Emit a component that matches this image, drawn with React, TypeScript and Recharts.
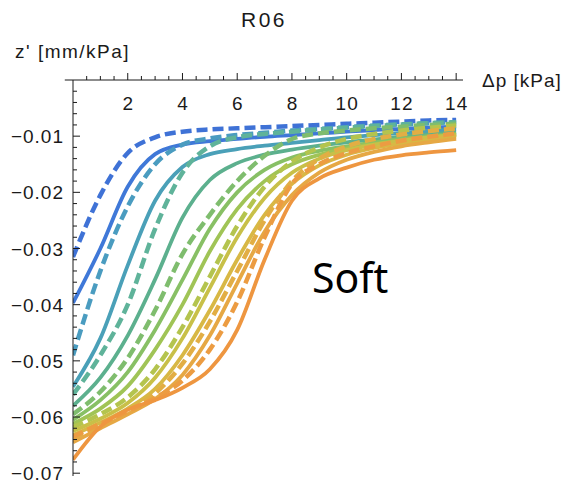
import React from 'react';
import { LineChart, Line, XAxis, YAxis, ReferenceLine } from 'recharts';

if (typeof document !== 'undefined') {
  document.body.style.margin = '0';
}

// Δp [kPa]
const pressure = [0, 1, 2, 3, 4, 5, 6, 7, 8, 9, 10, 11, 12, 13, 14];

// z' [mm/kPa] series, blue (left/top) to orange (right/bottom)
const c01 = [-0.0315, -0.0205, -0.013, -0.0102, -0.0092, -0.0088, -0.0086, -0.0084, -0.0082, -0.008, -0.0078, -0.0076, -0.0074, -0.0072, -0.0071];
const c02 = [-0.0397, -0.03, -0.019, -0.0132, -0.0115, -0.0109, -0.0105, -0.0101, -0.0098, -0.0095, -0.0092, -0.0089, -0.0087, -0.0085, -0.0083];
const c03 = [-0.049, -0.034, -0.0225, -0.015, -0.0115, -0.0104, -0.0098, -0.0094, -0.009, -0.0087, -0.0084, -0.0081, -0.0079, -0.0077, -0.0075];
const c04 = [-0.0546, -0.046, -0.033, -0.0215, -0.0155, -0.0132, -0.0123, -0.0117, -0.0112, -0.0107, -0.0102, -0.0098, -0.0094, -0.0091, -0.0088];
const c05 = [-0.056, -0.049, -0.04, -0.0265, -0.0165, -0.0118, -0.0102, -0.0096, -0.0092, -0.0088, -0.0085, -0.0082, -0.0079, -0.0077, -0.0075];
const c06 = [-0.058, -0.053, -0.0455, -0.0355, -0.0245, -0.0178, -0.0148, -0.0133, -0.0124, -0.0117, -0.0111, -0.0106, -0.0101, -0.0097, -0.0093];
const c07 = [-0.0595, -0.0555, -0.0495, -0.041, -0.031, -0.024, -0.018, -0.0135, -0.0105, -0.0095, -0.009, -0.0086, -0.0083, -0.008, -0.0078];
const c08 = [-0.0605, -0.057, -0.052, -0.0445, -0.0356, -0.0265, -0.02, -0.016, -0.0138, -0.0126, -0.0118, -0.0111, -0.0105, -0.01, -0.0096];
const c09 = [-0.0612, -0.0585, -0.0545, -0.048, -0.04, -0.0305, -0.023, -0.018, -0.015, -0.0133, -0.0122, -0.0114, -0.0107, -0.0102, -0.0097];
const c10 = [-0.0618, -0.0595, -0.0565, -0.0515, -0.044, -0.035, -0.026, -0.019, -0.0145, -0.012, -0.0105, -0.0096, -0.009, -0.0085, -0.0081];
const c11 = [-0.0625, -0.0603, -0.0575, -0.053, -0.046, -0.037, -0.028, -0.021, -0.0165, -0.014, -0.0125, -0.0115, -0.0108, -0.0102, -0.0098];
const c12 = [-0.0632, -0.061, -0.0585, -0.055, -0.049, -0.041, -0.032, -0.024, -0.0185, -0.0152, -0.0133, -0.0121, -0.0113, -0.0106, -0.0101];
const c13 = [-0.0638, -0.0615, -0.059, -0.0558, -0.0505, -0.043, -0.034, -0.025, -0.018, -0.014, -0.0118, -0.0105, -0.0097, -0.0091, -0.0086];
const c14 = [-0.0645, -0.062, -0.0595, -0.0568, -0.0525, -0.0455, -0.0362, -0.027, -0.0205, -0.0165, -0.0142, -0.0128, -0.0118, -0.0111, -0.0105];
const c15 = [-0.0635, -0.0612, -0.059, -0.0566, -0.0535, -0.048, -0.0395, -0.028, -0.0185, -0.015, -0.013, -0.0118, -0.0108, -0.0101, -0.0095];
const c16 = [-0.0676, -0.0617, -0.0587, -0.057, -0.0548, -0.0515, -0.0445, -0.032, -0.0215, -0.0175, -0.0156, -0.0142, -0.0134, -0.0129, -0.0125];

const seriesValues = [c01, c02, c03, c04, c05, c06, c07, c08, c09, c10, c11, c12, c13, c14, c15, c16];
const seriesDashed = [true, false, true, false, true, false, true, false, false, true, false, false, true, false, true, false];
const seriesColors = [
  '#3f72d6', '#3f78d8', '#4a9cc0', '#4aa0b8', '#5fb39a', '#5cb08e', '#7fbd6e', '#88c065',
  '#a0c456', '#b4c44e', '#c8c048', '#d8b845', '#e2ae44', '#e6a844', '#ec9c42', '#ee9640',
];

const xTickValues = [0.5, 1, 1.5, 2, 2.5, 3, 3.5, 4, 4.5, 5, 5.5, 6, 6.5, 7, 7.5, 8, 8.5, 9, 9.5, 10, 10.5, 11, 11.5, 12, 12.5, 13, 13.5, 14];
const xMajorTicks = [2, 4, 6, 8, 10, 12, 14];
const xTickLabels = ['2', '4', '6', '8', '10', '12', '14'];

const yTickValues = [
  -0.002, -0.004, -0.006, -0.008, -0.01, -0.012, -0.014, -0.016, -0.018, -0.02,
  -0.022, -0.024, -0.026, -0.028, -0.03, -0.032, -0.034, -0.036, -0.038, -0.04,
  -0.042, -0.044, -0.046, -0.048, -0.05, -0.052, -0.054, -0.056, -0.058, -0.06,
  -0.062, -0.064, -0.066, -0.068, -0.07,
];
const yMajorTicks = [-0.01, -0.02, -0.03, -0.04, -0.05, -0.06, -0.07];
const yTickLabels = ['\u22120.01', '\u22120.02', '\u22120.03', '\u22120.04', '\u22120.05', '\u22120.06', '\u22120.07'];

const rows = pressure.map((x, i) => {
  const row: Record<string, number> = { x };
  seriesValues.forEach((s, k) => {
    row['c' + k] = s[i];
  });
  return row;
});

const FONT = '"Liberation Sans", Arial, sans-serif';
const INK = '#1a1a1a';

const XTick = (props: any) => {
  const { x, y, payload } = props;
  const v = payload.value;
  const idx = xMajorTicks.findIndex((m) => Math.abs(m - v) < 1e-9);
  if (idx >= 0) {
    return (
      <g>
        <line x1={x} y1={y} x2={x} y2={y - 7} stroke={INK} strokeWidth={1} />
        <text x={x + 0.5} y={y + 30} textAnchor="middle" fontFamily={FONT} fontSize={19} letterSpacing={1} fill={INK}>
          {xTickLabels[idx]}
        </text>
      </g>
    );
  }
  return <line x1={x} y1={y} x2={x} y2={y - 4} stroke={INK} strokeWidth={1} />;
};

const YTick = (props: any) => {
  const { x, y, payload } = props;
  const v = payload.value;
  const idx = yMajorTicks.findIndex((m) => Math.abs(m - v) < 1e-9);
  if (idx >= 0) {
    return (
      <g>
        <line x1={x} y1={y} x2={x + 7} y2={y} stroke={INK} strokeWidth={1} />
        <text x={x - 9} y={y + 7} textAnchor="end" fontFamily={FONT} fontSize={19} letterSpacing={1} fill={INK}>
          {yTickLabels[idx]}
        </text>
      </g>
    );
  }
  return <line x1={x} y1={y} x2={x + 4} y2={y} stroke={INK} strokeWidth={1} />;
};

export default function App() {
  return (
    <div style={{ position: 'relative', width: 570, height: 489, background: '#fff' }}>
      <LineChart width={570} height={489} data={rows} margin={{ top: 50, right: 107, bottom: 13, left: 13 }}>
        <XAxis
          dataKey="x"
          type="number"
          domain={[0, 14.25]}
          allowDataOverflow
          orientation="top"
          height={30}
          ticks={xTickValues}
          interval={0}
          tickSize={0}
          tickMargin={0}
          tickLine={false}
          axisLine={{ stroke: INK, strokeWidth: 1 }}
          tick={<XTick />}
        />
        <YAxis
          type="number"
          domain={[-0.0705, 0]}
          allowDataOverflow
          width={60}
          ticks={yTickValues}
          interval={0}
          tickSize={0}
          tickMargin={0}
          tickLine={false}
          axisLine={{ stroke: INK, strokeWidth: 1 }}
          tick={<YTick />}
        />
        <ReferenceLine segment={[{ x: -0.3, y: 0 }, { x: 0, y: 0 }]} ifOverflow="visible" stroke={INK} strokeWidth={1} />
        {seriesValues.map((_, k) => (
          <Line
            key={k}
            dataKey={'c' + k}
            type="monotone"
            stroke={seriesColors[k]}
            strokeWidth={seriesDashed[k] ? 4.5 : 3.8}
            strokeDasharray={seriesDashed[k] ? '11 5' : undefined}
            dot={false}
            activeDot={false}
            isAnimationActive={false}
          />
        ))}
      </LineChart>
      <svg width={570} height={489} style={{ position: 'absolute', left: 0, top: 0, pointerEvents: 'none' }}>
        <text x={264} y={27} textAnchor="middle" fontFamily={FONT} fontSize={21} letterSpacing={2.5} fill={INK}>R06</text>
        <text x={15} y={58} fontFamily={FONT} fontSize={19} letterSpacing={1.5} fill={INK}>z' [mm/kPa]</text>
        <text x={482} y={87} fontFamily={FONT} fontSize={19} letterSpacing={1} fill={INK}>Δp [kPa]</text>
        <text x={312} y={293} fontFamily='"Noto Sans", "Open Sans", sans-serif' fontSize={41} fill="#000">Soft</text>
      </svg>
    </div>
  );
}
